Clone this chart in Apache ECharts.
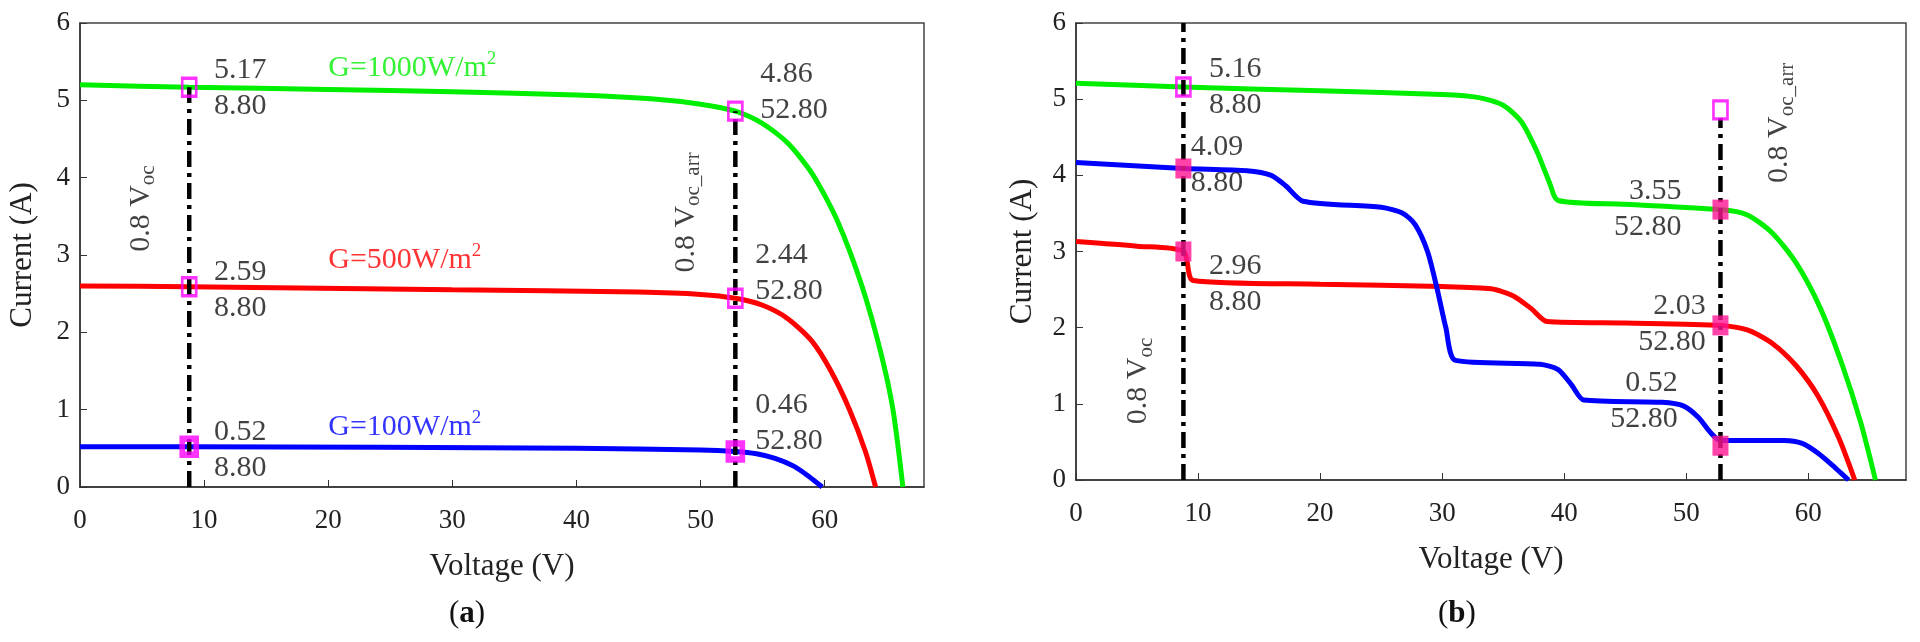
<!DOCTYPE html>
<html>
<head>
<meta charset="utf-8" />
<title>I-V curves</title>
<script src="https://cdn.jsdelivr.net/npm/echarts@6/dist/echarts.min.js"></script>
<style>html,body{margin:0;padding:0;background:#fff;}#main{width:1920px;height:642px;}</style>
</head>
<body>
<div id="main"></div>
<script type="text/javascript">
// panel (a): uniform irradiance curves [V, I]
var aGreen = [[0,5.2],[8.8,5.17],[20,5.14],[30,5.11],[40,5.07],[46,5.02],[50,4.95],[52.8,4.86],[55,4.7],[57,4.45],[59,4.05],[61,3.45],[63,2.6],[64.5,1.75],[65.5,1.0],[66.3,0]];
var aRed = [[0,2.6],[8.8,2.59],[30,2.55],[45,2.52],[50,2.49],[52.8,2.44],[55,2.35],[57,2.18],[59,1.88],[60.5,1.5],[62,1.0],[63.3,0.45],[64.1,0]];
var aBlue = [[0,0.52],[8.8,0.52],[40,0.5],[50,0.48],[52.8,0.46],[54.5,0.43],[56,0.37],[57.5,0.27],[58.7,0.14],[59.8,0]];
// panel (b): partial shading curves
var bGreen = [[0,5.21],[8.8,5.16],[20,5.11],[30,5.06],[33,5.02],[35,4.92],[36.5,4.7],[37.8,4.3],[38.8,3.9],[39.5,3.67],[45,3.62],[52.8,3.55],[55,3.48],[57,3.25],[59,2.85],[61,2.25],[62.8,1.5],[64.3,0.75],[65.5,0]];
var bRed = [[0,3.13],[5,3.07],[8.8,3.0],[9.6,2.62],[20,2.57],[30,2.54],[34,2.51],[35.8,2.42],[37.3,2.25],[38.6,2.08],[45,2.06],[52.8,2.03],[55,1.97],[57,1.8],[59,1.5],[60.8,1.1],[62.5,0.55],[63.8,0]];
var bBlue = [[0,4.17],[8.8,4.09],[14,4.06],[16,4.0],[17.2,3.86],[18.6,3.66],[25,3.58],[26.8,3.5],[27.8,3.35],[28.8,3.0],[29.6,2.5],[30.3,2.0],[31.1,1.57],[38,1.52],[39.5,1.45],[40.6,1.25],[41.6,1.05],[48,1.02],[49.8,0.97],[51,0.82],[52,0.62],[52.8,0.52],[58,0.52],[59.5,0.48],[60.8,0.35],[62.2,0.16],[63.3,0]];

// marker points [V, I]
var aMarks = [[8.8,5.17],[52.8,4.86],[8.8,2.59],[52.8,2.44]];
var aMarksThick = [[8.8,0.52],[52.8,0.46]];
var bHollow = [[8.8,5.16],[52.8,4.86]];
var bFilled = [[8.8,4.09],[8.8,3.0],[52.8,3.55],[52.8,2.03],[52.8,0.45]];

// vertical reference lines (V, top current)
var aVlines = [[8.8,5.17],[52.8,4.86]];
var bVlines = [[8.8,6],[52.8,4.75]];

// annotation texts [V, I, text]
var aNotes = [[10.8,5.16,'5.17\n8.80'],[54.8,5.1,'4.86\n52.80'],[10.8,2.55,'2.59\n8.80'],[54.4,2.77,'2.44\n52.80'],[10.8,0.48,'0.52\n8.80'],[54.4,0.83,'0.46\n52.80']];
var aIrr = [[20,5.42,'G=1000W/m{p|2}','#00ee00'],[20,2.93,'G=500W/m{p|2}','#ff0000'],[20,0.78,'G=100W/m{p|2}','#0000ff']];
var bNotes = [[10.9,5.16,'5.16\n8.80','left'],[9.4,4.13,'4.09\n8.80','left'],[10.9,2.57,'2.96\n8.80','left'],[49.6,3.56,'3.55\n52.80','right'],[51.6,2.05,'2.03\n52.80','right'],[49.3,1.03,'0.52\n52.80','right']];
var aRot = [[4.9,3.6,'0.8 V{s|oc}'],[48.8,3.55,'0.8 V{s|oc_arr}']];
var bRot = [[5.1,1.3,'0.8 V{s|oc}'],[57.6,4.69,'0.8 V{s|oc_arr}']];

var xTicks = [0,10,20,30,40,50,60];
var FONT = 'Liberation Serif';

var myChart = echarts.init(document.getElementById('main'));

function xAx(i) {
    return {
        gridIndex: i, type: 'value', min: 0, max: 68, interval: 10,
        name: 'Voltage (V)', nameLocation: 'middle', nameGap: 64,
        nameTextStyle: {fontFamily: FONT, fontSize: 31, color: '#222'},
        axisLine: {onZero: false, lineStyle: {color: '#333', width: 1.5}},
        axisTick: {inside: true, length: 7, lineStyle: {color: '#333'}},
        axisLabel: {fontFamily: FONT, fontSize: 27, color: '#222', margin: 20, showMaxLabel: false,
            formatter: function (v) { return xTicks.indexOf(v) >= 0 ? String(v) : ''; }},
        splitLine: {show: false}
    };
}
function yAx(i, gap) {
    return {
        gridIndex: i, type: 'value', min: 0, max: 6, interval: 1,
        name: 'Current (A)', nameLocation: 'middle', nameGap: gap,
        nameTextStyle: {fontFamily: FONT, fontSize: 31, color: '#222'},
        axisLine: {lineStyle: {color: '#333', width: 1.5}},
        axisTick: {inside: true, length: 7, lineStyle: {color: '#333'}},
        axisLabel: {fontFamily: FONT, fontSize: 27, color: '#222', margin: 10},
        splitLine: {show: false}
    };
}
function curve(i, data, color) {
    return {type: 'line', xAxisIndex: i, yAxisIndex: i, data: data, smooth: 0.25,
        showSymbol: false, lineStyle: {color: color, width: 5}, z: 2, silent: true};
}
function vline(i, v) {
    return {type: 'line', xAxisIndex: i, yAxisIndex: i, data: [[v[0],0],[v[0],v[1]]],
        showSymbol: false, lineStyle: {color: '#000', width: 4.5, type: [16,6,4,6]}, z: 3, silent: true};
}
function texts(i, rows, extra) {
    return {type: 'scatter', xAxisIndex: i, yAxisIndex: i, symbolSize: 0, z: 6, silent: true,
        data: rows.map(function (r) { return {value: [r[0], r[1]], t: r}; }),
        label: Object.assign({show: true, position: 'inside', fontFamily: FONT, fontSize: 30,
            color: '#111', lineHeight: 36}, extra)};
}

var richSub = {s: {fontFamily: FONT, fontSize: 21, padding: [16,0,0,0], color: '#111'}};

var series = [
    curve(0, aGreen, '#00ee00'), curve(0, aRed, '#ff0000'), curve(0, aBlue, '#0000ff'),
    curve(1, bGreen, '#00ee00'), curve(1, bRed, '#ff0000'), curve(1, bBlue, '#0000ff')
];
aVlines.forEach(function (v) { series.push(vline(0, v)); });
bVlines.forEach(function (v) { series.push(vline(1, v)); });
series.push({type: 'scatter', xAxisIndex: 0, yAxisIndex: 0, data: aMarks, symbol: 'rect', symbolSize: [14,18], z: 5,
    itemStyle: {color: 'rgba(0,0,0,0)', borderColor: '#ff00ff', borderWidth: 3}});
series.push({type: 'scatter', xAxisIndex: 0, yAxisIndex: 0, data: aMarksThick, symbol: 'rect', symbolSize: [14,16], z: 5,
    itemStyle: {color: 'rgba(0,0,0,0)', borderColor: '#ff00ff', borderWidth: 6}});
series.push({type: 'scatter', xAxisIndex: 1, yAxisIndex: 1, data: bHollow, symbol: 'rect', symbolSize: [14,18], z: 5,
    itemStyle: {color: 'rgba(0,0,0,0)', borderColor: '#ff00ff', borderWidth: 3}});
series.push({type: 'scatter', xAxisIndex: 1, yAxisIndex: 1, data: bFilled, symbol: 'rect', symbolSize: [16,20], z: 5,
    itemStyle: {color: '#ff1493'}});

series.push(texts(0, aNotes, {align: 'left', formatter: function (p) { return p.data.t[2]; }}));
var bn = texts(1, bNotes, {formatter: function (p) { return p.data.t[2]; }});
bn.data.forEach(function (d) { d.label = {align: d.t[3]}; });
series.push(bn);
aIrr.forEach(function (r) {
    series.push(texts(0, [r], {align: 'left', color: r[3], formatter: function (p) { return p.data.t[2]; },
        rich: {p: {fontFamily: FONT, fontSize: 19, color: r[3], padding: [0,0,18,0]}}}));
});
series.push(texts(0, aRot, {rotate: 90, align: 'center', formatter: function (p) { return p.data.t[2]; }, rich: richSub}));
series.push(texts(1, bRot, {rotate: 90, align: 'center', formatter: function (p) { return p.data.t[2]; }, rich: richSub}));

var option = {
    backgroundColor: '#fff',
    animation: false,
    grid: [
        {left: 80, right: 996, top: 23, bottom: 155, show: true, borderColor: '#444', borderWidth: 1.5},
        {left: 1076, right: 14, top: 23, bottom: 162, show: true, borderColor: '#444', borderWidth: 1.5}
    ],
    xAxis: [xAx(0), xAx(1)],
    yAxis: [yAx(0, 42), yAx(1, 38)],
    graphic: [
        {type: 'text', left: 449, top: 598, style: {text: '({a|a})', fontFamily: FONT, fontSize: 31, fill: '#111',
            rich: {a: {fontFamily: FONT, fontSize: 31, fontWeight: 'bold'}}}},
        {type: 'text', left: 1438, top: 598, style: {text: '({a|b})', fontFamily: FONT, fontSize: 31, fill: '#111',
            rich: {a: {fontFamily: FONT, fontSize: 31, fontWeight: 'bold'}}}}
    ],
    series: series
};
myChart.setOption(option, true);
</script>
</body>
</html>
